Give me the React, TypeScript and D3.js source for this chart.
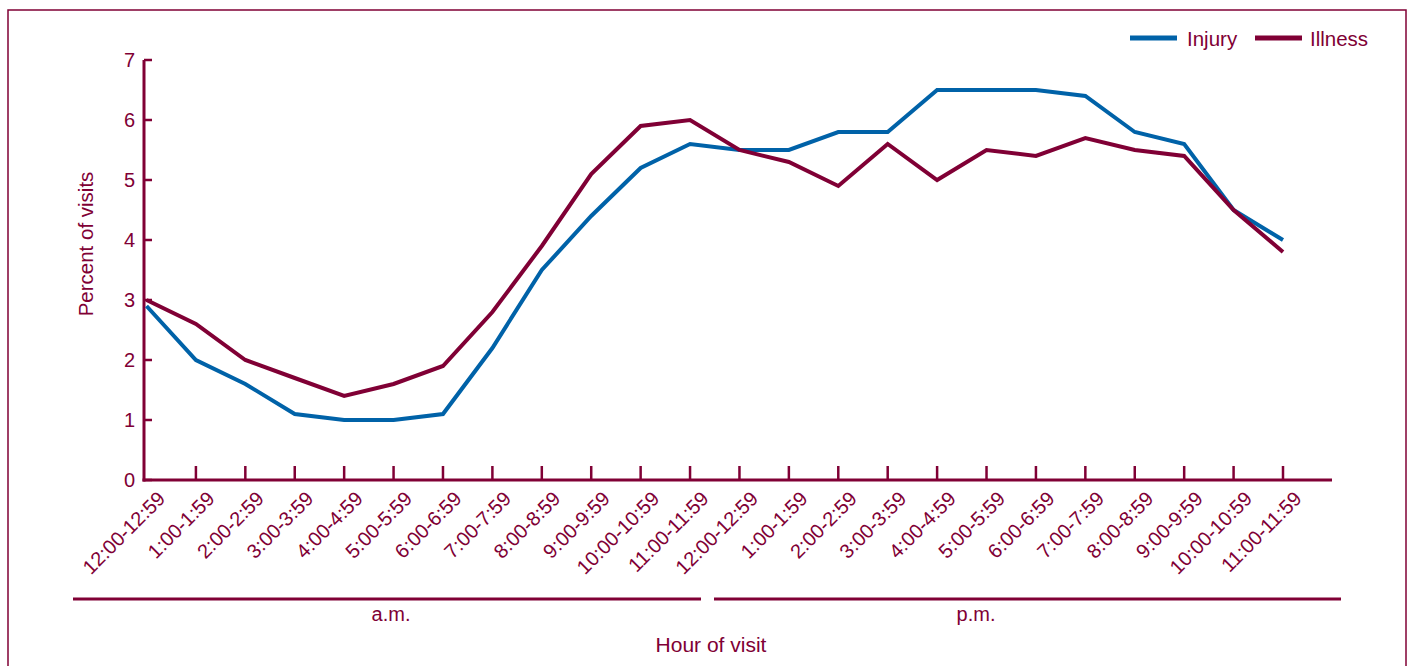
import React from "react";
import * as d3 from "d3";

const categories = [
  "12:00-12:59", "1:00-1:59", "2:00-2:59", "3:00-3:59", "4:00-4:59", "5:00-5:59",
  "6:00-6:59", "7:00-7:59", "8:00-8:59", "9:00-9:59", "10:00-10:59", "11:00-11:59",
  "12:00-12:59", "1:00-1:59", "2:00-2:59", "3:00-3:59", "4:00-4:59", "5:00-5:59",
  "6:00-6:59", "7:00-7:59", "8:00-8:59", "9:00-9:59", "10:00-10:59", "11:00-11:59",
];
const injury = [2.9, 2.0, 1.6, 1.1, 1.0, 1.0, 1.1, 2.2, 3.5, 4.4, 5.2, 5.6, 5.5, 5.5, 5.8, 5.8, 6.5, 6.5, 6.5, 6.4, 5.8, 5.6, 4.5, 4.0];
const illness = [3.0, 2.6, 2.0, 1.7, 1.4, 1.6, 1.9, 2.8, 3.9, 5.1, 5.9, 6.0, 5.5, 5.3, 4.9, 5.6, 5.0, 5.5, 5.4, 5.7, 5.5, 5.4, 4.5, 3.8];
const yTicks = [0, 1, 2, 3, 4, 5, 6, 7];
const periods = ["a.m.", "p.m."];

const MAROON = "#800035";
const BLUE = "#0062a8";
const FONT = "'Liberation Sans', Arial, sans-serif";

export default function App() {
  const W = 1410, H = 666;
  const x = d3.scaleLinear().domain([0, 23]).range([146.5, 1283]);
  const y = d3.scaleLinear().domain([0, 7]).range([480, 60]);
  const line = d3.line<number>().x((_, i) => x(i)).y((d) => y(d));

  return (
    <svg width={W} height={H} style={{ position: "absolute", left: 0, top: 0 }}>
      <rect x={8} y={10} width={1398} height={700} fill="white" stroke={MAROON} strokeWidth={1.5} />
      {/* y axis */}
      <line x1={144} x2={144} y1={y(7)} y2={y(0) + 1.5} stroke={MAROON} strokeWidth={3} />
      {yTicks.map((t) => (
        <g key={t}>
          <line x1={144} x2={152} y1={y(t)} y2={y(t)} stroke={MAROON} strokeWidth={2.5} />
          <text x={135} y={y(t) + 7} textAnchor="end" fontFamily={FONT} fontSize={20} fill={MAROON}>{t}</text>
        </g>
      ))}
      <text transform={`translate(93,244) rotate(-90)`} textAnchor="middle" fontFamily={FONT} fontSize={20.5} fill={MAROON}>Percent of visits</text>
      {/* x axis */}
      <line x1={142.5} x2={1332} y1={480} y2={480} stroke={MAROON} strokeWidth={3} />
      {categories.map((c, i) => (
        <g key={i}>
          {i > 0 && <line x1={x(i)} x2={x(i)} y1={480} y2={466} stroke={MAROON} strokeWidth={2.5} />}
          <text transform={`translate(${x(i) + 10},${490}) rotate(-45)`} textAnchor="end" dy="0.7em" fontFamily={FONT} fontSize={20} fill={MAROON}>{c}</text>
        </g>
      ))}
      {/* brackets */}
      <line x1={73} x2={701} y1={599} y2={599} stroke={MAROON} strokeWidth={3} />
      <line x1={714} x2={1341} y1={599} y2={599} stroke={MAROON} strokeWidth={3} />
      <text x={391} y={621} textAnchor="middle" fontFamily={FONT} fontSize={20} fill={MAROON}>{periods[0]}</text>
      <text x={976} y={621} textAnchor="middle" fontFamily={FONT} fontSize={20} fill={MAROON}>{periods[1]}</text>
      <text x={711} y={652} textAnchor="middle" fontFamily={FONT} fontSize={21} fill={MAROON}>Hour of visit</text>
      {/* lines */}
      <path d={line(injury) || ""} fill="none" stroke={BLUE} strokeWidth={4} strokeLinejoin="miter" />
      <path d={line(illness) || ""} fill="none" stroke={MAROON} strokeWidth={4} strokeLinejoin="miter" />
      {/* legend */}
      <line x1={1130} x2={1177} y1={38} y2={38} stroke={BLUE} strokeWidth={5} />
      <text x={1187} y={46} fontFamily={FONT} fontSize={20.5} fill={MAROON}>Injury</text>
      <line x1={1255} x2={1302} y1={38} y2={38} stroke={MAROON} strokeWidth={5} />
      <text x={1310} y={46} fontFamily={FONT} fontSize={20.5} fill={MAROON}>Illness</text>
    </svg>
  );
}
